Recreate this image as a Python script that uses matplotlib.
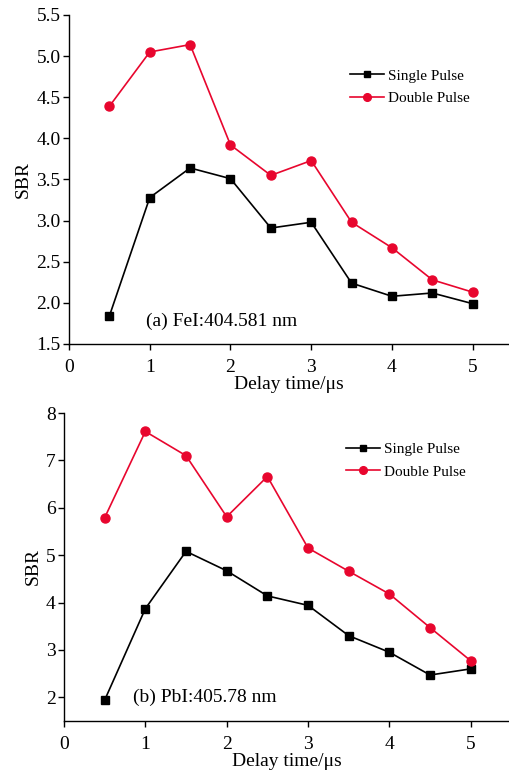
import matplotlib.pyplot as plt

plt.rcParams["font.family"] = ["Liberation Serif", "DejaVu Serif"]

delay = [0.5, 1.0, 1.5, 2.0, 2.5, 3.0, 3.5, 4.0, 4.5, 5.0]

# (a) FeI 404.581 nm
fe_single = [1.84, 3.28, 3.64, 3.51, 2.91, 2.98, 2.24, 2.08, 2.12, 1.99]
fe_double = [4.39, 5.05, 5.14, 3.92, 3.55, 3.73, 2.98, 2.67, 2.28, 2.13]

# (b) PbI 405.78 nm
pb_single = [1.94, 3.87, 5.08, 4.67, 4.14, 3.94, 3.30, 2.95, 2.47, 2.60]
pb_double = [5.79, 7.61, 7.10, 5.81, 6.66, 5.15, 4.66, 4.18, 3.47, 2.77]

red = "#e8062e"
fontsize = 14


def draw_panel(ax, single, double, note, note_xy, ylim, yticks, yfmt, xmax, leg_anchor):
    ax.plot(delay, single, color="black", marker="s", markersize=5.5,
            linewidth=1.2, label="Single Pulse")
    ax.plot(delay, double, color=red, marker="o", markersize=6.5,
            linewidth=1.2, label="Double Pulse")
    ax.spines["right"].set_visible(False)
    ax.spines["top"].set_visible(False)
    ax.spines["left"].set_linewidth(1.0)
    ax.spines["bottom"].set_linewidth(1.0)
    ax.tick_params(direction="out", length=4, width=1, labelsize=fontsize)
    ax.tick_params(axis="x", pad=7)
    ax.tick_params(axis="y", pad=2)
    ax.set_xlim(0, xmax)
    ax.set_ylim(*ylim)
    ax.set_xticks([0, 1, 2, 3, 4, 5])
    ax.set_yticks(yticks)
    ax.set_yticklabels([yfmt.format(v) for v in yticks])
    ax.set_xlabel("Delay time/μs", fontsize=fontsize, labelpad=0)
    ax.set_ylabel("SBR", fontsize=fontsize, labelpad=3)
    ax.text(note_xy[0], note_xy[1], note, fontsize=fontsize, va="center")
    ax.legend(loc="upper left", bbox_to_anchor=leg_anchor, frameon=False,
              fontsize=11, handlelength=2.2, handletextpad=0.3,
              labelspacing=0.6, borderaxespad=0, markerscale=0.85)


fig = plt.figure(figsize=(5.09, 7.73), dpi=100)
ax1 = fig.add_axes([0.1356, 0.555, 0.8644, 0.4256])
ax2 = fig.add_axes([0.1257, 0.0673, 0.8743, 0.3984])

draw_panel(ax1, fe_single, fe_double, "(a) FeI:404.581 nm", (0.95, 1.78),
           (1.5, 5.5), [1.5, 2.0, 2.5, 3.0, 3.5, 4.0, 4.5, 5.0, 5.5], "{:.1f}",
           5.45, (0.625, 0.855))
draw_panel(ax2, pb_single, pb_double, "(b) PbI:405.78 nm", (0.85, 2.0),
           (1.5, 8.0), [2, 3, 4, 5, 6, 7, 8], "{:d}",
           5.47, (0.62, 0.925))

fig.savefig("out.png", dpi=100)
